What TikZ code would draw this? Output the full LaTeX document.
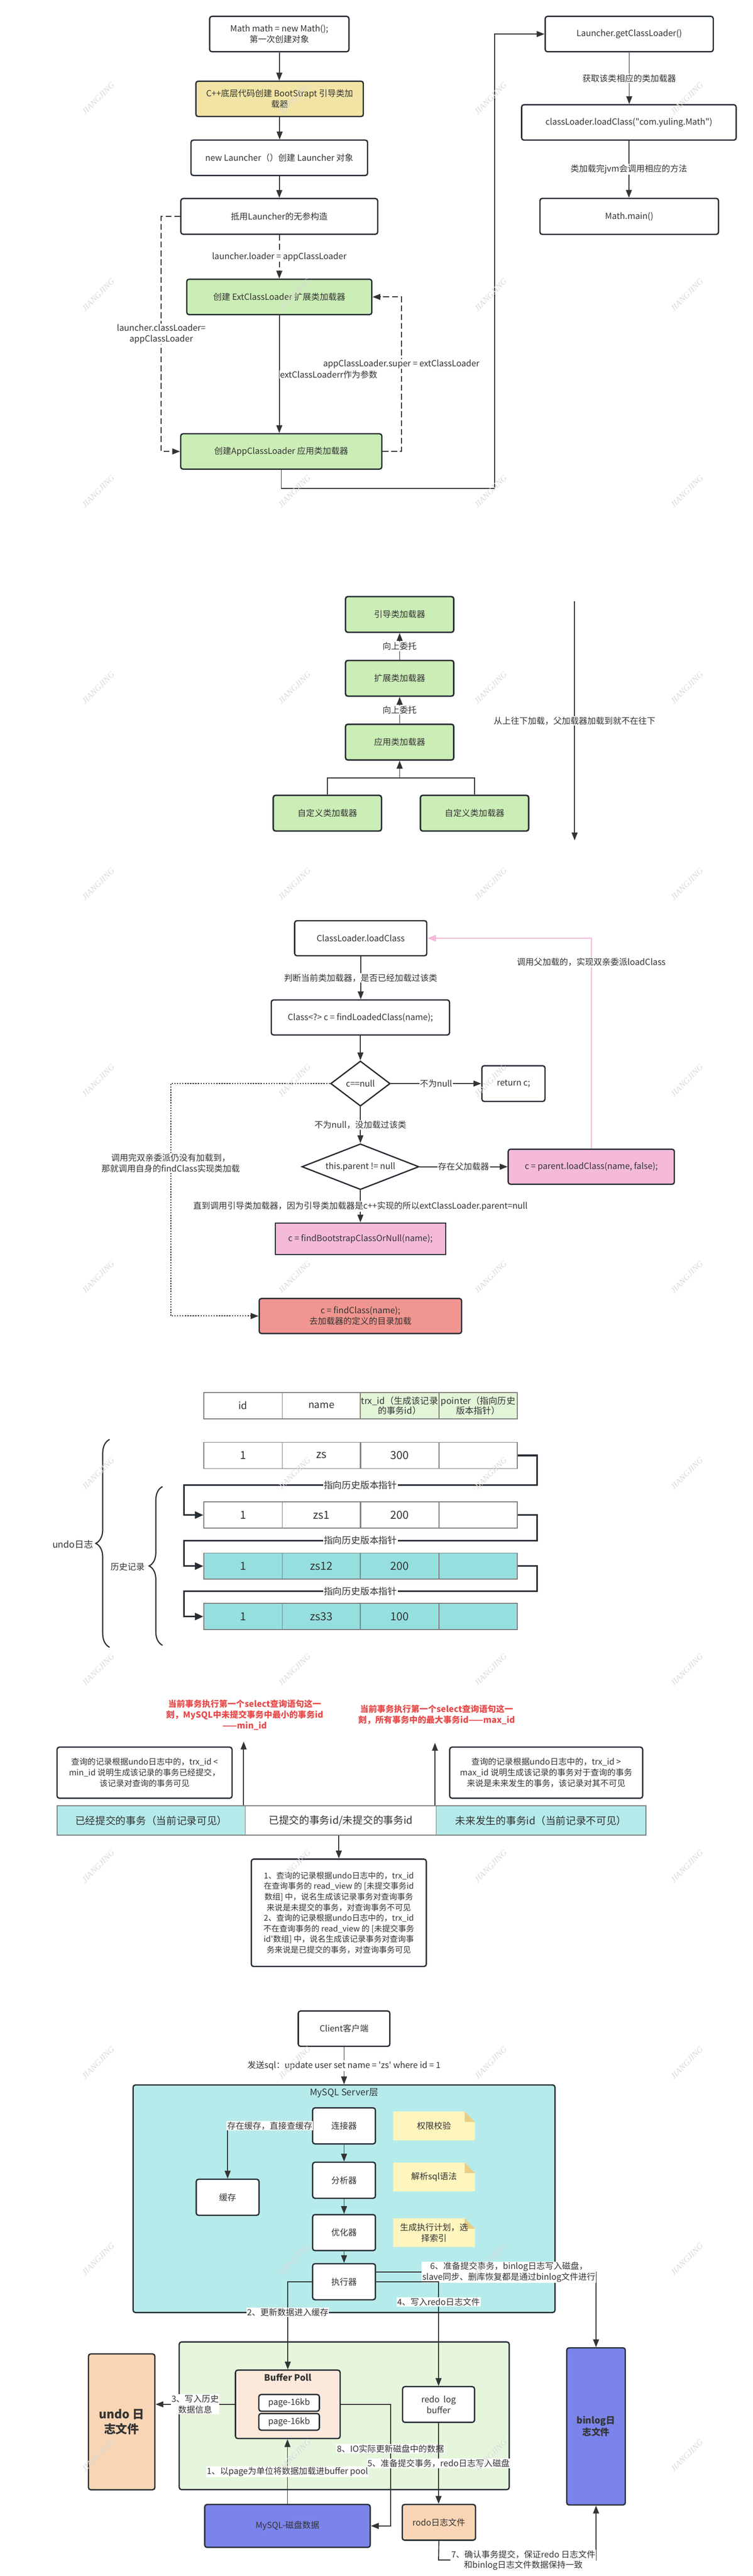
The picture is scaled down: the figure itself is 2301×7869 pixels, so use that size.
\documentclass[tikz,border=0pt]{standalone}
\usepackage{fontspec}
\setmainfont{Noto Sans CJK SC}
\newfontfamily\wmfont{Liberation Serif}
\usetikzlibrary{arrows.meta,shapes.geometric,decorations.pathreplacing,calc}
\definecolor{bd}{HTML}{262C33}
\definecolor{ln}{HTML}{333333}
\definecolor{txt}{HTML}{333333}
\definecolor{yel}{HTML}{F2E4A4}
\definecolor{grn}{HTML}{CBEDB6}
\definecolor{pnk}{HTML}{F5BAD9}
\definecolor{pnkln}{HTML}{F5B8D8}
\definecolor{redbox}{HTML}{F0958F}
\definecolor{tealc}{HTML}{96DFDF}
\definecolor{hdrg}{HTML}{E2F5D7}
\definecolor{bart}{HTML}{B5EAEA}
\definecolor{srv}{HTML}{B6EBEB}
\definecolor{noteY}{HTML}{FFF5BE}
\definecolor{noteF}{HTML}{E6CE86}
\definecolor{inno}{HTML}{E6F6DD}
\definecolor{bpool}{HTML}{FCE9DB}
\definecolor{peach}{HTML}{F8D5B5}
\definecolor{blu}{HTML}{7B84EB}
\definecolor{redtxt}{HTML}{E84A4A}
\definecolor{cellg}{HTML}{7F7F7F}
\newcommand\fsz[2]{\fontsize{#1}{#2}\selectfont}
\begin{document}
\begin{tikzpicture}[x=1pt,y=-1pt,
  every node/.style={font=\fsz{26}{33}, text=txt},
  box/.style={draw=bd, line width=4pt, rounded corners=7pt, fill=white, align=center, inner sep=2pt},
  wh/.style 2 args={minimum width=#1pt, minimum height=#2pt},
  conn/.style={draw=ln, line width=3pt},
  arr/.style={conn, -{Triangle[length=24pt,width=18pt]}},
  darr/.style={arr, dash pattern=on 18pt off 9pt},
  dotarr/.style={arr, line width=3.5pt, dash pattern=on 4pt off 4pt},
  parr/.style={draw=pnkln, line width=4pt, -{Triangle[length=26pt,width=20pt]}},
  ptr/.style={draw=bd, line width=5pt, -{Triangle[length=26pt,width=22pt]}},
  lbl/.style={fill=white, inner sep=2pt, align=center},
  cell/.style={draw=cellg, line width=2.5pt, minimum width=240pt, minimum height=80pt, inner sep=0pt, align=center, font=\fsz{34}{40}},
  dia/.style={draw=bd, line width=4pt, diamond, inner sep=0pt, fill=white},
  wm/.style={text=gray!30, font=\wmfont\itshape\fsz{26}{26}, rotate=45},
]
\fill[white] (0,0) rectangle (2301,7869);
\useasboundingbox (0,0) rectangle (2301,7869);

% ================= Section 1 =================
\node[box, wh={426}{108}] (m1) at (854,104) {Math math = new Math();\\第一次创建对象};
\node[box, wh={512}{108}, fill=yel] (m2) at (855,302) {C++底层代码创建 BootStrapt 引导类加\\载器};
\node[box, wh={540}{108}] (m3) at (854,482) {new Launcher（）创建 Launcher 对象};
\node[box, wh={602}{109}] (m4) at (854,661) {抵用Launcher的无参构造};
\node[box, wh={566}{108}, fill=grn] (m5) at (854,907) {创建 ExtClassLoader 扩展类加载器};
\node[box, wh={615}{108}, fill=grn] (m6) at (860,1379) {创建AppClassLoader 应用类加载器};
\node[box, wh={514}{108}] (r1) at (1924,104) {Launcher.getClassLoader()};
\node[box, wh={656}{108}] (r2) at (1923,374) {classLoader.loadClass(\textquotedbl com.yuling.Math\textquotedbl)};
\node[box, wh={546}{110}] (r3) at (1924,661) {Math.main()};

\draw[arr] (m1.south) -- (m1.south |- m2.north);
\draw[arr] (m2.south) -- (m2.south |- m3.north);
\draw[arr] (m3.south) -- (m3.south |- m4.north);
\draw[darr] (m4.south) -- node[lbl]{launcher.loader = appClassLoader} (m4.south |- m5.north);
\coordinate (k1) at (493,661);
\coordinate (k2) at (493,1379);
\draw[darr] (m4.west) -- (k1) -- node[lbl]{launcher.classLoader=\\appClassLoader} (k2) -- (m6.west);
\draw[arr] (m5.south) -- (m5.south |- m6.north);
\coordinate (k3) at (1227,1379);
\coordinate (k4) at (1227,907);
\draw[darr] (m6.east) -- (k3) -- node[lbl, inner sep=1pt, pos=0.566]{appClassLoader.super = extClassLoader} (k4) -- (m5.east);
\node[lbl, inner sep=1pt, anchor=west] (t1) at (855,1144) {extClassLoaderr作为参数};
\coordinate (j1) at (1513,1492);
\draw[arr] (m6.south) |- (j1) |- (r1.west);
\draw[arr] (r1.south) -- node[lbl]{获取该类相应的类加载器} (r1.south |- r2.north);
\draw[arr] (r2.south) -- node[lbl]{类加载完jvm会调用相应的方法} (r2.south |- r3.north);

% ================= Section 2 =================
\node[box, wh={331}{109}, fill=grn, line width=4.5pt] (g1) at (1222,1877) {引导类加载器};
\node[box, wh={331}{109}, fill=grn, line width=4.5pt] (g2) at (1222,2072) {扩展类加载器};
\node[box, wh={331}{109}, fill=grn, line width=4.5pt] (g3) at (1222,2267) {应用类加载器};
\node[box, wh={331}{109}, fill=grn, line width=4.5pt] (g4) at (1001,2484) {自定义类加载器};
\node[box, wh={331}{109}, fill=grn, line width=4.5pt] (g5) at (1451,2484) {自定义类加载器};
\draw[arr] (g2.north) -- node[lbl]{向上委托} (g1.south);
\draw[arr] (g3.north) -- node[lbl]{向上委托} (g2.south);
\coordinate (tj) at (1222,2376);
\draw[conn, line width=3.5pt] (g4.north) |- (tj) -| (g5.north);
\draw[arr] (tj) -- (g3.south);
\coordinate (la1) at (1757,1837);
\coordinate (la2) at (1757,2567);
\draw[arr] (la1) -- node[lbl]{从上往下加载，父加载器加载到就不在往下} (la2);

% ================= Section 3 =================
\node[box, wh={404}{107}] (c1) at (1103,2866) {ClassLoader.loadClass};
\node[box, wh={545}{107}] (c2) at (1102,3108) {Class<?> c = findLoadedClass(name);};
\node[dia, aspect=1.32, minimum width=182pt, minimum height=138pt] (d1) at (1102,3310) {c==null};
\node[box, wh={193}{109}] (c3) at (1570,3310) {return c;};
\node[dia, aspect=2.56, minimum width=358pt, minimum height=140pt] (d2) at (1102,3564) {this.parent != null};
\node[box, wh={508}{107}, fill=pnk] (c4) at (1808,3564) {c = parent.loadClass(name, false);};
\node[box, wh={521}{96}, fill=pnk, rounded corners=0pt, line width=3.5pt] (c5) at (1102,3784) {c = findBootstrapClassOrNull(name);};
\node[box, wh={619}{107}, fill=redbox] (c6) at (1102,4020) {c = findClass(name);\\去加载器的定义的目录加载};

\draw[arr] (c1.south) -- node[lbl]{判断当前类加载器，是否已经加载过该类} (c1.south |- c2.north);
\draw[arr] (c2.south) -- (d1.north);
\draw[arr] (d1.east) -- node[lbl]{不为null} (c3.west);
\draw[arr] (d1.south) -- node[lbl]{不为null，没加载过该类} (d2.north);
\draw[arr] (d2.east) -- node[lbl]{存在父加载器} (c4.west);
\draw[arr] (d2.south) -- node[lbl]{直到调用引导类加载器，因为引导类加载器是c++实现的所以extClassLoader.parent=null} (c5.north);
\coordinate (pk) at (1808,2866);
\draw[parr] (c4.north) -- (pk) -- (c1.east);
\node[lbl] (pl) at (1808,2939) {调用父加载的，实现双亲委派loadClass};
\coordinate (dt1) at (522,3310);
\coordinate (dt2) at (522,4020);
\draw[dotarr] (d1.west) -- (dt1) -- (dt2) -- (c6.west);
\node[lbl, font=\fsz{26}{32}] (dl) at (522,3553) {调用完双亲委派仍没有加载到，\\那就调用自身的findClass实现类加载};

% ================= Section 4 =================
\node[cell, font=\fsz{30}{36}] (h1) at (743,4294) {id};
\node[cell, font=\fsz{30}{36}] (h2) at (983,4294) {name};
\node[cell, fill=hdrg, font=\fsz{27}{31}] (h3) at (1222,4294) {trx\_id（生成该记录\\的事务id）};
\node[cell, fill=hdrg, font=\fsz{27}{31}] (h4) at (1462,4294) {pointer（指向历史\\版本指针）};

\node[cell] (a1) at (743,4446) {1};
\node[cell] (a2) at (983,4446) {zs};
\node[cell] (a3) at (1222,4446) {300};
\node[cell] (a4) at (1462,4446) {};
\node[cell] (b1) at (743,4628) {1};
\node[cell] (b2) at (983,4628) {zs1};
\node[cell] (b3) at (1222,4628) {200};
\node[cell] (b4) at (1462,4628) {};
\node[cell, fill=tealc] (e1) at (743,4784) {1};
\node[cell, fill=tealc] (e2) at (983,4784) {zs12};
\node[cell, fill=tealc] (e3) at (1222,4784) {200};
\node[cell, fill=tealc] (e4) at (1462,4784) {};
\node[cell, fill=tealc] (f1) at (743,4938) {1};
\node[cell, fill=tealc] (f2) at (983,4938) {zs33};
\node[cell, fill=tealc] (f3) at (1222,4938) {100};
\node[cell, fill=tealc] (f4) at (1462,4938) {};

\coordinate (q1) at (1642,4537);
\coordinate (q2) at (562,4537);
\coordinate (q3) at (1642,4706);
\coordinate (q4) at (562,4706);
\coordinate (q5) at (1642,4861);
\coordinate (q6) at (562,4861);
\draw[ptr] (a4.east) -| (q1) -- node[lbl, font=\fsz{28}{34}]{指向历史版本指针} (q2) |- (b1.west);
\draw[ptr] (b4.east) -| (q3) -- node[lbl, font=\fsz{28}{34}]{指向历史版本指针} (q4) |- (e1.west);
\draw[ptr] (e4.east) -| (q5) -- node[lbl, font=\fsz{28}{34}]{指向历史版本指针} (q6) |- (f1.west);

\draw[draw=bd, line width=3.5pt, decorate, decoration={brace, amplitude=42pt}] (335,5032) -- (335,4397);
\node[font=\fsz{28}{34}] (ul) at (223,4718) {undo日志};
\draw[draw=bd, line width=3.5pt, decorate, decoration={brace, amplitude=41pt}] (497,5026) -- (497,4541);
\node (hl) at (390,4786) {历史记录};

% ================= Section 5 =================
\node[font=\bfseries\fsz{26}{33}, text=redtxt, align=center] (rt1) at (748,5239) {当前事务执行第一个select查询语句这一\\刻，MySQL中未提交事务中最小的事务id\\——min\_id};
\node[font=\bfseries\fsz{26}{33}, text=redtxt, align=center] (rt2) at (1335,5238) {当前事务执行第一个select查询语句这一\\刻，所有事务中的最大事务id——max\_id};
\node[box, wh={535}{156}, font=\fsz{25}{33}] (lb) at (442,5415) {查询的记录根据undo日志中的，trx\_id <\\min\_id 说明生成该记录的事务已经提交，\\该记录对查询的事务可见};
\node[box, wh={590}{156}, font=\fsz{25.5}{33}] (rb) at (1670,5415) {查询的记录根据undo日志中的，trx\_id >\\max\_id 说明生成该记录的事务对于查询的事务\\来说是未来发生的事务，该记录对其不可见};
\node[draw=cellg, line width=2.5pt, fill=bart, wh={575}{90}, font=\fsz{31}{36}] (v1) at (462.5,5561) {已经提交的事务（当前记录可见）};
\node[draw=cellg, line width=2.5pt, fill=white, wh={584}{90}, font=\fsz{31}{36}] (v2) at (1042,5561) {已提交的事务id/未提交的事务id};
\node[draw=cellg, line width=2.5pt, fill=bart, wh={641}{90}, font=\fsz{31}{36}] (v3) at (1654.5,5561) {未来发生的事务id（当前记录不可见）};
\coordinate (u1) at (745,5320);
\coordinate (u2) at (1330,5324);
\draw[arr] (u1 |- v1.north) -- (u1);
\draw[arr] (u2 |- v3.north) -- (u2);
\node[box, wh={535}{328}, font=\fsz{24.5}{32.4}] (bb) at (1036,5843) {1、查询的记录根据undo日志中的，trx\_id\\在查询事务的 read\_view 的 [未提交事务id\\数组] 中，说名生成该记录事务对查询事务\\来说是未提交的事务，对查询事务不可见\\2、查询的记录根据undo日志中的，trx\_id\\不在查询事务的 read\_view 的 [未提交事务\\id\textquotesingle 数组] 中，说名生成该记录事务对查询事\\务来说是已提交的事务，对查询事务可见};
\draw[arr] (bb.north |- v2.south) -- (bb.north);

% ================= Section 6 =================
\node[box, wh={280}{108}] (cl) at (1052,6197) {Client客户端};
\node[box, wh={1290}{695}, fill=srv] (srv) at (1052,6716.5) {};
\node[font=\fsz{28}{34}] (srvt) at (1052,6393) {MySQL Server层};
\draw[arr] (cl.south) -- node[lbl]{发送sql：update user set name = \textquotesingle zs\textquotesingle\ where id = 1} (srv.north);

\node[box, wh={192}{110}] (s1) at (1052,6494) {连接器};
\node[box, wh={192}{110}] (s2) at (1052,6660) {分析器};
\node[box, wh={192}{110}] (s3) at (1052,6820) {优化器};
\node[box, wh={192}{110}] (s4) at (1052,6970) {执行器};
\node[box, wh={192}{110}] (ca) at (696,6712) {缓存};

\foreach \nm/\cy/\tx in {n1/6494/权限校验, n2/6650/解析sql语法, n3/6820/{生成执行计划，选\\择索引}} {
  \begin{scope}[shift={(1327,\cy)}]
    \fill[noteY] (-125,-44) -- (94,-44) -- (125,-12) -- (125,44) -- (-125,44) -- cycle;
    \fill[noteF] (94,-44) -- (125,-12) -- (94,-12) -- cycle;
    \node[align=center] (\nm) at (0,0) {\tx};
  \end{scope}
}

\draw[arr] (s1.south) -- (s2.north);
\draw[arr] (s2.south) -- (s3.north);
\draw[arr] (s3.south) -- (s4.north);
\draw[arr] (s1.west) -| node[lbl, pos=0.25]{存在缓存，直接查缓存} (ca.north);

\node[box, wh={1009}{451}, fill=inno] (inn) at (1052.5,7379.5) {};
\node[box, wh={320}{209}, fill=bpool] (bp) at (880,7344.5) {};
\node[font=\bfseries\fsz{27}{34}] (bpt) at (880,7263) {Buffer Poll};
\node[box, wh={185}{51}] (pg1) at (884,7340) {page-16kb};
\node[box, wh={185}{51}] (pg2) at (884,7398) {page-16kb};
\node[box, wh={220}{109}] (rbuf) at (1341,7345) {redo\ \ log\\buffer};
\node[box, wh={203}{415}, fill=peach, font=\bfseries\fsz{36}{46}] (undo) at (372,7398) {undo 日\\志文件};
\node[box, wh={179}{480}, fill=blu, font=\bfseries\fsz{28}{36}] (bin) at (1822.5,7412) {binlog日\\志文件};
\node[box, wh={506}{131}, fill=blu] (disk) at (879,7716) {MySQL-磁盘数据};
\node[box, wh={224}{109}, fill=peach] (rodo) at (1342,7705) {rodo日志文件};

\draw[arr] ([yshift=30pt]s4.east) -| (bin.north);
\node[lbl] (l6) at (1556,6941) {6、准备提交事务，binlog日志写入磁盘，\\slave同步、删库恢复都是通过binlog文件进行};
\draw[arr] (s4.east) -| (rbuf.north);
\node[lbl] (l4) at (1341,7032) {4、写入redo日志文件};
\draw[arr] (s4.west) -| (bp.north);
\node[lbl] (l2) at (880,7063) {2、更新数据进入缓存};

\draw[arr] (bp.west) -- node[lbl]{3、写入历史\\数据信息} (undo.east |- bp.west);
\draw[arr] (disk.north) -- node[lbl]{1、以page为单位将数据加载进buffer pool} (disk.north |- bp.south);
\coordinate (k8) at (1194,7716);
\draw[arr] (bp.east) -| (k8) -- (disk.east);
\node[lbl] (l8) at (1194,7480) {8、IO实际更新磁盘中的数据};
\draw[arr] (rbuf.south) -- node[lbl]{5、准备提交事务，redo日志写入磁盘} (rbuf.south |- rodo.north);
\coordinate (k7) at (1341,7820);
\draw[arr] (rodo.south) -- (k7) -| (bin.south);
\node[lbl] (l7) at (1600,7821) {7、确认事务提交，保证redo 日志文件\\和binlog日志文件数据保持一致};

% ================= Watermarks =================
\foreach \i in {0,...,12} {
  \foreach \xx in {300,900,1500,2100} {
    \node[wm] (wm-\xx-\i) at (\xx,{301+600*\i}) {JIANGJING};
  }
}
\end{tikzpicture}
\end{document}
